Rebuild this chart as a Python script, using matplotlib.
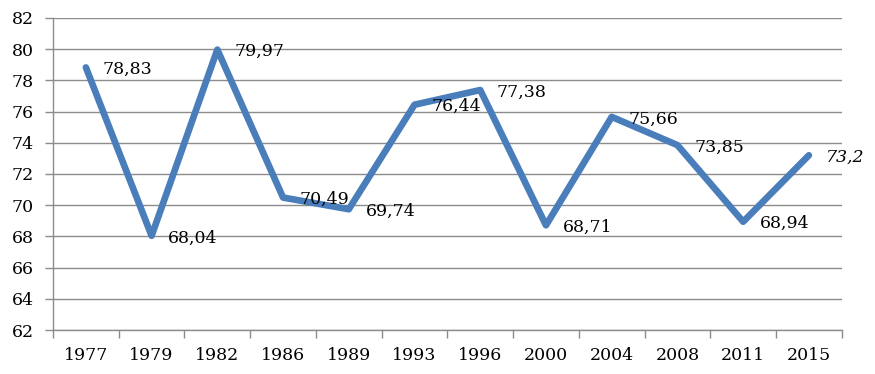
import matplotlib.pyplot as plt

# data
years = ['1977', '1979', '1982', '1986', '1989', '1993', '1996', '2000', '2004', '2008', '2011', '2015']
values = [78.83, 68.04, 79.97, 70.49, 69.74, 76.44, 77.38, 68.71, 75.66, 73.85, 68.94, 73.2]
labels = ['78,83', '68,04', '79,97', '70,49', '69,74', '76,44', '77,38', '68,71', '75,66', '73,85', '68,94', '73,2']
y_ticks = list(range(62, 83, 2))

plt.rcParams['font.family'] = ['DejaVu Serif']
grey = '#8c8c8c'
blue = '#4a7ebb'

fig = plt.figure(figsize=(8.75, 3.74), dpi=100)
ax = fig.add_axes([0.0606, 0.1176, 0.9014, 0.8344])

x = list(range(len(years)))
ax.plot(x, values, color=blue, linewidth=4.8, solid_joinstyle='round',
        solid_capstyle='round', zorder=3)

# value labels to the right of each point
for i in range(len(values)):
    style = 'italic' if i == len(values) - 1 else 'normal'
    ax.annotate(labels[i], (x[i], values[i]), xytext=(12, -1.5), textcoords='offset points',
                ha='left', va='center', fontsize=12.5, style=style, zorder=4)

ax.set_xlim(-0.5, len(years) - 0.5)
ax.set_ylim(62, 82)
ax.set_yticks(y_ticks)
ax.set_yticklabels([str(t) for t in y_ticks], fontsize=12.5)
ax.yaxis.grid(True, color=grey, linewidth=1)
ax.set_axisbelow(True)

# category labels centred, tick marks between categories
ax.set_xticks(x)
ax.set_xticklabels(years, fontsize=12.5)
ax.tick_params(axis='x', length=0, pad=12)
ax.set_xticks([i - 0.5 for i in range(len(years) + 1)], minor=True)
ax.tick_params(axis='x', which='minor', length=6, color=grey, width=1)
ax.tick_params(axis='y', length=6, color=grey, width=1, pad=8)

for side in ['top', 'right']:
    ax.spines[side].set_visible(False)
for side in ['left', 'bottom']:
    ax.spines[side].set_color(grey)
    ax.spines[side].set_linewidth(1)

fig.savefig('out.png', dpi=100)
